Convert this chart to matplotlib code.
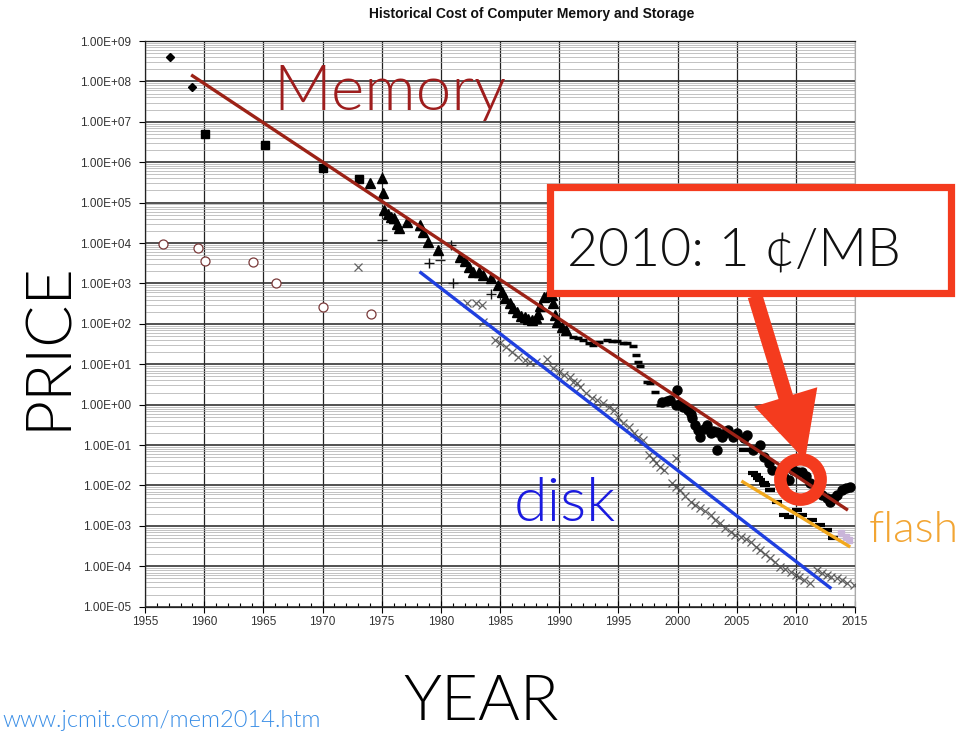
import matplotlib
matplotlib.use("Agg")
import matplotlib.pyplot as plt
import matplotlib.ticker as mticker
from matplotlib.patches import Rectangle, FancyArrow

# ---------------- data (year, price) ----------------
mem_diamond_years = [1957.1, 1959.0]
mem_diamond_vals = [4.1e8, 7.1e7]

mem_square_years = [1960.1, 1965.1, 1970.0, 1973.1]
mem_square_vals = [5.1e6, 2.6e6, 7.1e5, 3.8e5]

mem_tri_years = [1974.0, 1975.0, 1975.1, 1975.2, 1975.5, 1975.8, 1976.0, 1976.3, 1976.5,
                 1977.1, 1978.2, 1978.5, 1978.9, 1979.8, 1981.6, 1982.0, 1982.4, 1982.75,
                 1983.2, 1983.6, 1984.2, 1984.85, 1985.15, 1985.4, 1985.85, 1986.1, 1986.4,
                 1986.8, 1987.1, 1987.4, 1987.7, 1988.0, 1988.2, 1988.4, 1988.7, 1989.0,
                 1989.4, 1989.5, 1989.65, 1989.8, 1990.2, 1990.6]
mem_tri_vals = [3.1e5, 4.0e5, 1.7e5, 6.6e4, 5.2e4, 4.5e4, 4.1e4, 3.0e4, 2.3e4,
                3.4e4, 2.8e4, 1.9e4, 1.07e4, 6.8e3, 4.6e3, 3.5e3, 2.5e3, 1.95e3,
                1.9e3, 1.62e3, 1.35e3, 9.1e2, 6.2e2, 4.3e2, 3.2e2, 2.4e2, 2.0e2,
                1.6e2, 1.5e2, 1.3e2, 1.23e2, 1.4e2, 1.8e2, 2.8e2, 4.7e2, 5.0e2,
                5.1e2, 3.2e2, 1.66e2, 1.12e2, 8.5e1, 7.1e1]

mem_dash_years = [1991.2, 1991.6, 1992.0, 1992.5, 1992.9, 1993.4, 1994.0, 1994.5, 1994.9,
                  1995.4, 1995.7, 1996.2, 1996.5, 1996.7, 1996.8, 1997.4, 1997.7, 1998.1,
                  1998.5]
mem_dash_vals = [48, 45, 40, 33, 30, 35, 40, 38, 38,
                 34, 33, 29, 17, 11.5, 9.1, 3.7, 3.4, 2.1,
                 0.98]

mem_dot_years = [1998.7, 1999.1, 1999.4, 1999.97, 1999.9, 2000.2, 2000.5, 2000.9, 2001.1,
                 2001.2, 2001.5, 2001.75, 2001.9, 2002.2, 2002.5, 2002.8, 2003.0, 2003.3,
                 2003.3, 2003.75, 2004.0, 2004.3, 2004.7, 2005.0, 2005.6, 2005.9, 2006.4,
                 2007.0, 2007.3, 2007.7, 2008.0, 2009.0, 2009.4, 2009.8, 2010.2, 2010.5,
                 2010.9, 2011.2, 2011.7, 2012.2, 2012.6, 2012.9, 2013.2, 2013.5, 2013.9,
                 2014.2, 2014.6]
mem_dot_vals = [1.17, 1.25, 1.29, 2.29, 0.98, 1.05, 0.89, 0.74, 0.6,
                0.457, 0.316, 0.234, 0.162, 0.25, 0.316, 0.195, 0.22, 0.214,
                0.076, 0.162, 0.2, 0.234, 0.162, 0.195, 0.148, 0.178, 0.076,
                0.1, 0.051, 0.035, 0.024, 0.016, 0.0135, 0.024, 0.022, 0.0219,
                0.017, 0.0112, 0.008, 0.00575, 0.0048, 0.0040, 0.0050, 0.00575, 0.0078,
                0.0085, 0.0093]

flash_dash_years = [2005.6, 2006.4, 2006.6, 2006.8, 2007.0, 2007.3, 2007.4, 2007.85, 2008.4,
                    2009.0, 2009.4, 2010.1, 2010.5, 2011.35, 2012.0, 2012.6, 2013.15]
flash_dash_vals = [0.076, 0.020, 0.018, 0.015, 0.0135, 0.0112, 0.0102, 0.0078, 0.0040,
                   0.00186, 0.0017, 0.00245, 0.00186, 0.00138, 0.00105, 0.0008, 0.00049]

flash_purple_years = [2013.8, 2014.2, 2014.5]
flash_purple_vals = [6.5e-4, 5.4e-4, 4.5e-4]

core_circle_years = [1956.5, 1959.5, 1960.1, 1964.1, 1966.1, 1970.0, 1974.1]
core_circle_vals = [9.3e3, 7.4e3, 3.5e3, 3.3e3, 1.0e3, 2.6e2, 1.8e2]

disk_plus_years = [1979.0, 1980.9, 1981.0, 1984.2]
disk_plus_vals = [3.2e3, 8.9e3, 1.0e3, 5.6e2]

disk_dash_years = [1975.0, 1979.9]
disk_dash_vals = [1.17e4, 3.8e3]

disk_x_years = [1973.0, 1982.2, 1983.0, 1983.45, 1983.6, 1984.6, 1985.0, 1985.5, 1986.0,
                1986.55, 1987.1, 1987.5, 1988.0, 1988.95, 1989.5, 1990.0, 1990.4, 1990.9,
                1991.2, 1991.5, 1991.8, 1992.3, 1992.8, 1993.2, 1993.7, 1994.2, 1994.6,
                1995.0, 1995.4, 1995.9, 1996.3, 1996.7, 1997.1, 1997.55, 1997.9, 1998.2,
                1998.5, 1998.9, 1999.5, 1999.9, 1999.9, 2000.2, 2000.6, 2001.1, 2001.5,
                2001.9, 2002.3, 2002.8, 2003.2, 2003.6, 2004.0, 2004.5, 2004.9, 2005.35,
                2005.8, 2006.2, 2006.6, 2007.0, 2007.4, 2007.8, 2008.2, 2008.7, 2009.1,
                2009.55, 2010.0, 2010.3, 2010.7, 2011.2, 2011.8, 2012.2, 2012.6, 2013.0,
                2013.45, 2013.9, 2014.3, 2014.9]
disk_x_vals = [2.6e3, 3.2e2, 3.2e2, 3.0e2, 1.12e2, 40, 33, 27, 20,
               15.5, 12.6, 11.5, 11.5, 13.8, 7.9, 6.3, 5.4, 4.9,
               3.7, 3.4, 2.75, 1.9, 1.5, 1.3, 1.07, 0.9, 0.74,
               0.5, 0.35, 0.28, 0.195, 0.16, 0.13, 0.056, 0.045, 0.035,
               0.028, 0.024, 0.0112, 0.0093, 0.047, 0.0078, 0.0055, 0.0040, 0.0033,
               0.0027, 0.0023, 0.00186, 0.0014, 0.00115, 0.0009, 0.0007, 0.0006, 0.00054,
               0.00048, 0.00041, 0.0003, 0.00025, 0.0002, 0.000158, 0.000125, 0.0000977, 0.000085,
               0.000074, 0.000062, 0.000055, 0.000045, 0.000038, 0.000081, 0.000068, 0.00006, 0.000055,
               0.00005, 0.000045, 0.000038, 0.000034]

# trend lines (end points)
memory_fit_years = [1958.9, 2014.4]
memory_fit_vals = [1.45e8, 2.45e-3]
disk_fit_years = [1978.2, 2013.0]
disk_fit_vals = [1.95e3, 2.8e-5]
flash_fit_years = [2005.4, 2014.6]
flash_fit_vals = [1.29e-2, 3.0e-4]

highlight_year = [2010.37]
highlight_val = [0.0145]

title = "Historical Cost of Computer Memory and Storage"
x_ticks = [1955, 1960, 1965, 1970, 1975, 1980, 1985, 1990, 1995, 2000, 2005, 2010, 2015]

# ---------------- figure ----------------
W, H = 967, 732
fig = plt.figure(figsize=(W / 100, H / 100), dpi=100)
fig.patch.set_facecolor("white")
ax = fig.add_axes([145 / W, 1 - 606.7 / H, 710 / W, 565.7 / H])

ax.set_yscale("log")
ax.set_xlim(1955, 2015)
ax.set_ylim(1e-5, 1e9)

tickfont = dict(family=["Liberation Sans", "DejaVu Sans"], size=8.5)
ax.set_xticks(x_ticks)
ax.set_xticklabels([str(t) for t in x_ticks], color="#333333", **tickfont)
ax.xaxis.set_minor_locator(mticker.MultipleLocator(1))
ax.yaxis.set_major_locator(mticker.LogLocator(base=10, numticks=20))
ax.yaxis.set_minor_locator(mticker.LogLocator(base=10, subs=range(2, 10), numticks=200))
ax.yaxis.set_major_formatter(mticker.FuncFormatter(lambda v, p: f"{v:.2E}"))
ax.yaxis.set_minor_formatter(mticker.NullFormatter())
for lab in ax.get_yticklabels():
    lab.set_fontfamily(["Liberation Sans", "DejaVu Sans"])
ax.tick_params(axis="y", which="major", labelsize=8.5, labelcolor="#333333",
               length=4, width=0.8, direction="out", pad=6)
ax.tick_params(axis="y", which="minor", length=0)
ax.tick_params(axis="x", which="major", labelsize=8.5, labelcolor="#333333",
               length=8, width=0.8, direction="inout", pad=3)
ax.tick_params(axis="x", which="minor", length=3, width=0.8, direction="in")

ax.grid(True, which="major", axis="x", color="#222222", lw=0.9)
ax.grid(True, which="major", axis="y", color="#333333", lw=1.2)
ax.grid(True, which="minor", axis="y", color="#aaaaaa", lw=0.5)
ax.set_axisbelow(True)
for s in ["left", "bottom", "top"]:
    ax.spines[s].set_color("#222222")
    ax.spines[s].set_linewidth(0.9)
ax.spines["right"].set_color("#aaaaaa")

# data markers
ax.plot(core_circle_years, core_circle_vals, ls="none", marker="o", ms=6.5,
        mfc="white", mec="#7a3a3a", mew=0.9, zorder=3)
ax.plot(disk_x_years, disk_x_vals, ls="none", marker="x", ms=6, mec="#4a4a4a",
        mew=0.9, alpha=0.85, zorder=3)
ax.plot(disk_plus_years, disk_plus_vals, ls="none", marker="+", ms=7, mec="#111111",
        mew=1.0, zorder=3)
ax.plot(disk_dash_years, disk_dash_vals, ls="none", marker="_", ms=7, mec="#222222",
        mew=1.0, zorder=3)
ax.plot(mem_diamond_years, mem_diamond_vals, ls="none", marker="D", ms=4.5,
        color="black", zorder=3)
ax.plot(mem_square_years, mem_square_vals, ls="none", marker="s", ms=6,
        color="black", zorder=3)
ax.plot(mem_tri_years, mem_tri_vals, ls="none", marker="^", ms=6.5,
        color="black", zorder=3)
ax.plot(mem_dash_years, mem_dash_vals, ls="none", marker="_", ms=6, mec="black",
        mew=2.5, zorder=3)
ax.plot(mem_dot_years, mem_dot_vals, ls="none", marker="o", ms=6.5,
        color="black", zorder=3)
ax.plot(flash_dash_years, flash_dash_vals, ls="none", marker="_", ms=7, mec="black",
        mew=3, zorder=3)
ax.plot(flash_purple_years, flash_purple_vals, ls="none", marker="s", ms=5,
        color="#c9b5d9", zorder=3)

# trend lines
ax.plot(memory_fit_years, memory_fit_vals, color="#9c2216", lw=2.4, zorder=4,
        solid_capstyle="butt")
ax.plot(disk_fit_years, disk_fit_vals, color="#1f3fe0", lw=2.4, zorder=4,
        solid_capstyle="butt")
ax.plot(flash_fit_years, flash_fit_vals, color="#f2a81d", lw=2.4, zorder=4,
        solid_capstyle="butt")

# highlight ring
red = "#f43b1e"
ax.plot(highlight_year, highlight_val, ls="none", marker="o", ms=29, mfc="none",
        mec=red, mew=9, zorder=6)

# ---------------- overlay in pixel coordinates ----------------
ov = fig.add_axes([0, 0, 1, 1], zorder=10)
ov.set_xlim(0, W)
ov.set_ylim(H, 0)
ov.axis("off")
ov.patch.set_alpha(0)

big = ["Lato", "DejaVu Sans"]
wt = 300
ov.text(532, 18, title, ha="center", va="baseline", fontsize=10, fontweight="bold",
        family=["Liberation Sans", "DejaVu Sans"], color="#111111")
ov.text(273, 110, "Memory", ha="left", va="baseline", fontsize=46, family=big,
        fontweight=wt, color="#9e1d1d")
ov.text(514, 521, "disk", ha="left", va="baseline", fontsize=44, family=big,
        fontweight=wt, color="#1a1ae0")
ov.text(869, 542, "flash", ha="left", va="baseline", fontsize=32, family=big,
        fontweight=wt, color="#f2a533")
ov.text(66, 346, "PRICE", ha="center", va="baseline", rotation=90, fontsize=45,
        family=big, fontweight=wt, color="black", rotation_mode="anchor")
ov.text(481, 731, "YEAR", ha="center", va="bottom", fontsize=46, family=big,
        fontweight=wt, color="black")
ov.text(2, 731, "www.jcmit.com/mem2014.htm", ha="left", va="bottom", fontsize=17,
        family=big, fontweight=wt, color="#3a8ee6")

ov.add_patch(Rectangle((550, 186.5), 401, 106, fc="white", ec=red, lw=5.2, zorder=11))
ov.text(567, 266, "2010: 1 ¢/MB", ha="left", va="baseline", fontsize=38.5, family=big,
        fontweight=wt, color="#111111", zorder=12)
ov.add_patch(FancyArrow(755, 296, 50, 164, width=15, head_width=66, head_length=66,
                        length_includes_head=True, fc=red, ec=red, lw=0, zorder=11))

fig.savefig("out.png", dpi=100, facecolor="white")
